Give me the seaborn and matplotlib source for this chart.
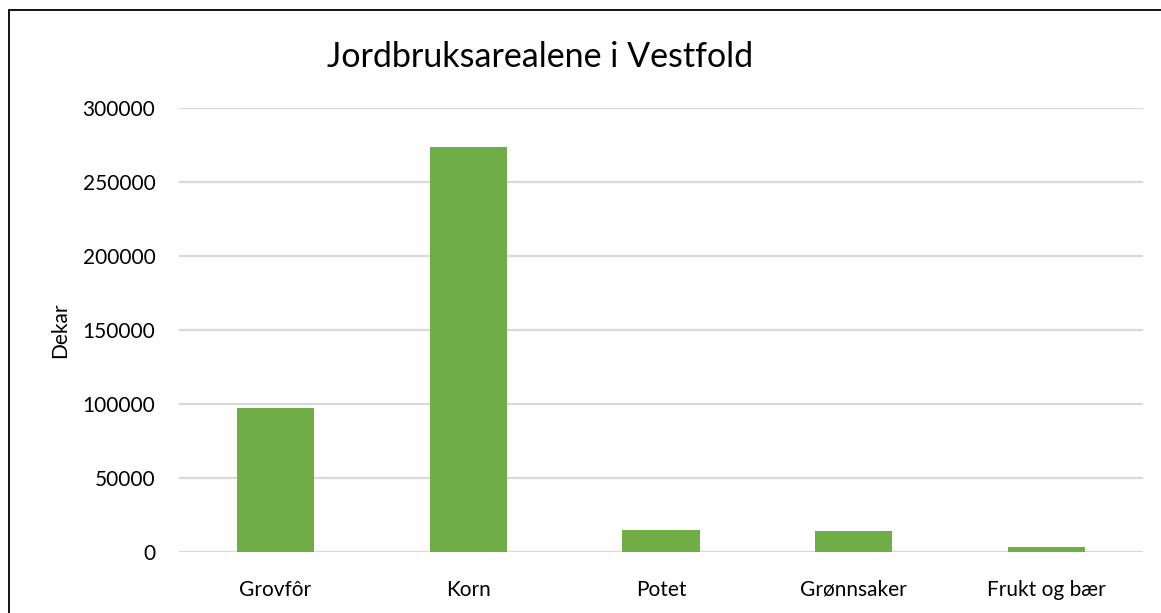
import matplotlib
matplotlib.use("Agg")
import matplotlib.pyplot as plt
import seaborn as sns
import pandas as pd
from matplotlib.patches import Rectangle

# data
kategorier = ["Grovfôr", "Korn", "Potet", "Grønnsaker", "Frukt og bær"]
dekar = [97300, 273800, 14800, 14300, 3400]
yticks = [0, 50000, 100000, 150000, 200000, 250000, 300000]

df = pd.DataFrame({"Kategori": kategorier, "Dekar": dekar})

sns.set_theme(style="white")
plt.rcParams["font.family"] = ["Lato", "DejaVu Sans"]
plt.rcParams["text.color"] = "black"
plt.rcParams["axes.labelcolor"] = "black"

fig = plt.figure(figsize=(11.61, 6.13), dpi=100)
ax = fig.add_axes([179 / 1161, 1 - 552 / 613, (1143 - 179) / 1161, (552 - 108) / 613])

sns.barplot(data=df, x="Kategori", y="Dekar", color="#70ad47", width=0.4,
            saturation=1, linewidth=0, ax=ax, zorder=3)

ax.set_ylim(0, 300000)
ax.set_yticks(yticks)
ax.set_yticklabels([str(t) for t in yticks])
ax.yaxis.grid(True, color="#d9d9d9", linewidth=1.6, zorder=0)
ax.set_axisbelow(True)
for s in ax.spines.values():
    s.set_visible(False)
ax.tick_params(axis="both", length=0, labelsize=15, colors="black")
ax.tick_params(axis="y", pad=17)
ax.tick_params(axis="x", pad=20)
ax.set_xlabel("")
ax.set_ylabel("Dekar", fontsize=15, labelpad=9)

fig.text(540 / 1161, 1 - 57 / 613, "Jordbruksarealene i Vestfold",
         fontsize=24.5, ha="center", va="center")

# chart frame (runs off the right and bottom edges)
fig.patches.append(Rectangle((9 / 1161, -0.05), 1.1, 1 - 10 / 613 + 0.05,
                             transform=fig.transFigure, fill=False,
                             edgecolor="black", linewidth=1.3))

fig.savefig("out.png", dpi=100)
